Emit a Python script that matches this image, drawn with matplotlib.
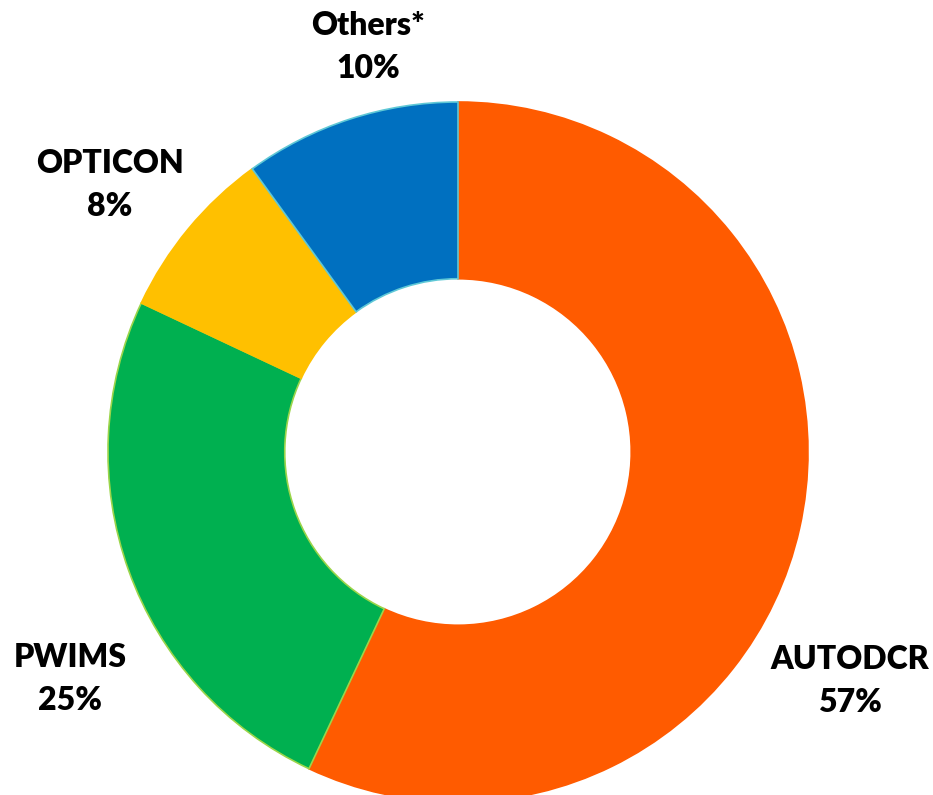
import matplotlib.pyplot as plt

labels = ["AUTODCR", "PWIMS", "OPTICON", "Others*"]
shares = [57, 25, 8, 10]
colors = ["#FF5B00", "#00B050", "#FFC000", "#0070C0"]
edge_colors = ["#FF5B00", "#9BD54A", "#FFC000", "#5FC8D6"]

# label anchor points (pixel layout, y measured from top)
label_pos = [(850, 681), (70, 679), (110, 185), (368, 47)]

W, H = 933, 795
fig = plt.figure(figsize=(W / 100, H / 100), dpi=100)
ax = fig.add_axes([0, 0, 1, 1])

radius = 350
wedges, _ = ax.pie(
    shares,
    colors=colors,
    startangle=90,
    counterclock=False,
    radius=radius,
    center=(458, H - 452),
    wedgeprops=dict(width=radius * 0.505, linewidth=1.2),
    frame=True,
)
for w, ec in zip(wedges, edge_colors):
    w.set_edgecolor(ec)

ax.set_xlim(0, W)
ax.set_ylim(0, H)
ax.set_aspect("equal")
ax.axis("off")

for name, val, (x, y) in zip(labels, shares, label_pos):
    ax.text(x, H - y, f"{name}\n{val}%", ha="center", va="center",
            fontsize=23, fontweight="heavy", family="Lato",
            linespacing=1.6, color="black")

fig.savefig("out.png", dpi=100)
